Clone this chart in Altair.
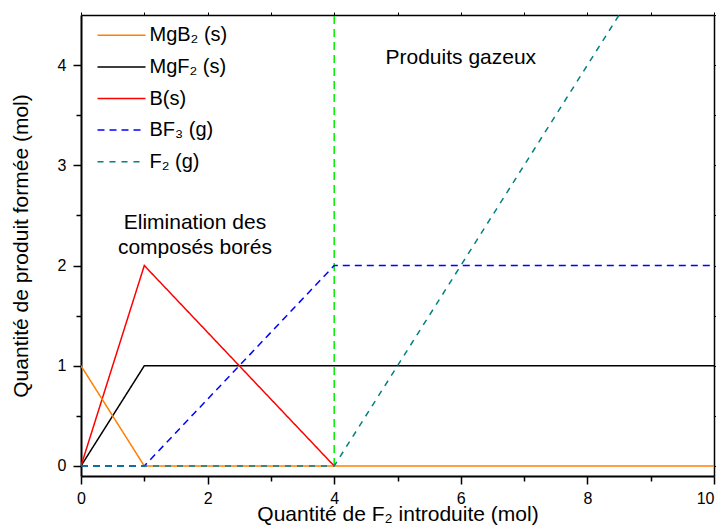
import altair as alt
import pandas as pd

# ---- data -------------------------------------------------------------
series = ["MgB\u2082 (s)", "MgF\u2082 (s)", "B(s)", "BF\u2083 (g)", "F\u2082 (g)"]
colors = ["#FF8000", "#000000", "#FF0000", "#0000FF", "#008080"]
dashes = [[1, 0], [1, 0], [1, 0], [7, 5], [6, 6]]

mgb2_x = [0, 1, 10]
mgb2_y = [1, 0, 0]
mgf2_x = [0, 1, 10]
mgf2_y = [0, 1, 1]
b_x = [0, 1, 4]
b_y = [0, 2, 0]
bf3_x = [0, 1, 4, 10]
bf3_y = [0, 0, 2, 2]
f2_x = [0, 4, 10]
f2_y = [0, 0, 6]

# drawing order (first drawn first)
draw = [
    (series[1], mgf2_x, mgf2_y),
    (series[2], b_x, b_y),
    (series[0], mgb2_x, mgb2_y),
    (series[3], bf3_x, bf3_y),
    (series[4], f2_x, f2_y),
]

vline_x = [4]
vline_y = [0]
vline_y2 = [4.5]

notes_text = ["Elimination des", "compos\u00e9s bor\u00e9s", "Produits gazeux"]
notes_x = [1.80, 1.80, 6.0]
notes_y = [2.365, 2.115, 4.01]

x_major = [0, 2, 4, 6, 8, 10]
x_minor = [1, 3, 5, 7, 9]
x_all = list(range(0, 11))
y_major = [0, 1, 2, 3, 4]
y_minor = [0.5, 1.5, 2.5, 3.5]
y_all = [0, 0.5, 1, 1.5, 2, 2.5, 3, 3.5, 4, 4.5]

# ---- tables -------------------------------------------------------------
rows = []
for name, xs, ys in draw:
    for xv, yv in zip(xs, ys):
        rows.append({"series": name, "x": xv, "y": yv})
df = pd.DataFrame(rows)
vdf = pd.DataFrame({"x": vline_x, "y": vline_y, "y2": vline_y2})
ndf = pd.DataFrame({"text": notes_text, "x": notes_x, "y": notes_y})

FONT = "Liberation Sans"
xscale = alt.Scale(domain=[0, 10], nice=False, zero=False)
yscale = alt.Scale(domain=[-0.1, 4.5], nice=False, zero=False)

leg = alt.Legend(
    title=None, orient="none", legendX=24.5, legendY=4.3,
    symbolType="M-1.6,0H1.6", symbolSize=900, symbolStrokeWidth=1.5,
    labelFont=FONT, labelFontSize=20, labelColor="black",
    labelOffset=12, rowPadding=5.6, padding=0,
)

lines = alt.Chart(df).mark_line(strokeWidth=1.5, clip=True).encode(
    x=alt.X("x:Q", scale=xscale, axis=alt.Axis(
        values=x_major, title="Quantit\u00e9 de F\u2082 introduite (mol)",
        tickSize=8, tickWidth=1.5, domainWidth=2, labelPadding=6,
        labelFlush=False, labelOverlap=False,
        labelAlign={"expr": "datum.value == 10 ? 'right' : 'center'"},
        labelFontSize=16, titleFontSize=21, titleY=44, titleBaseline="alphabetic",
        grid=False, format="d")),
    y=alt.Y("y:Q", scale=yscale, axis=alt.Axis(
        values=y_major, title="Quantit\u00e9 de produit form\u00e9e (mol)",
        tickSize=8, tickWidth=1.5, domainWidth=2, labelPadding=7,
        labelFontSize=16, titleFontSize=21, titleX=-60, titleBaseline="middle",
        grid=False, format="d")),
    color=alt.Color("series:N", scale=alt.Scale(domain=series, range=colors),
                    sort=series, legend=leg),
    strokeDash=alt.StrokeDash("series:N", scale=alt.Scale(domain=series, range=dashes),
                              sort=series, legend=leg),
)

minor = alt.Chart(df).mark_point(opacity=0).encode(
    x=alt.X("x:Q", scale=xscale, axis=alt.Axis(
        values=x_minor, labels=False, domain=False, tickSize=5, tickWidth=1.5,
        title=None, grid=False, orient="bottom")),
    y=alt.Y("y:Q", scale=yscale, axis=alt.Axis(
        values=y_minor, labels=False, domain=False, tickSize=5, tickWidth=1.5,
        title=None, grid=False, orient="left")),
)

frame = alt.Chart(df).mark_point(opacity=0).encode(
    x=alt.X("x:Q", scale=xscale, axis=alt.Axis(
        values=x_all, labels=False, domainWidth=1.5, tickSize=3, tickWidth=1,
        title=None, grid=False, orient="top")),
    y=alt.Y("y:Q", scale=yscale, axis=alt.Axis(
        values=y_all, labels=False, domainWidth=1.5, tickSize=3, tickWidth=1,
        title=None, grid=False, orient="right")),
)

vline = alt.Chart(vdf).mark_rule(color="#00EE00", strokeWidth=1.5, strokeDash=[8, 5]).encode(
    x=alt.X("x:Q", scale=xscale, axis=None),
    y=alt.Y("y:Q", scale=yscale, axis=None),
    y2="y2:Q",
)

notes = alt.Chart(ndf).mark_text(font=FONT, fontSize=21, color="black",
                                 align="center", baseline="alphabetic").encode(
    x=alt.X("x:Q", scale=xscale, axis=None),
    y=alt.Y("y:Q", scale=yscale, axis=None),
    text="text:N",
)

chart = alt.layer(vline, lines, minor, frame, notes).resolve_axis(
    x="independent", y="independent"
).properties(
    width=633, height=461,
    autosize=alt.AutoSizeParams(type="none"),
    padding={"left": 73, "top": 7, "right": 2, "bottom": 49},
).configure(font=FONT).configure_view(stroke=None).configure_axis(
    labelFont=FONT, titleFont=FONT, labelColor="black", titleColor="black",
    domainColor="black", tickColor="black", titleFontWeight="normal",
)

chart.save("out.html", embed_options={"renderer": "svg", "actions": False})
